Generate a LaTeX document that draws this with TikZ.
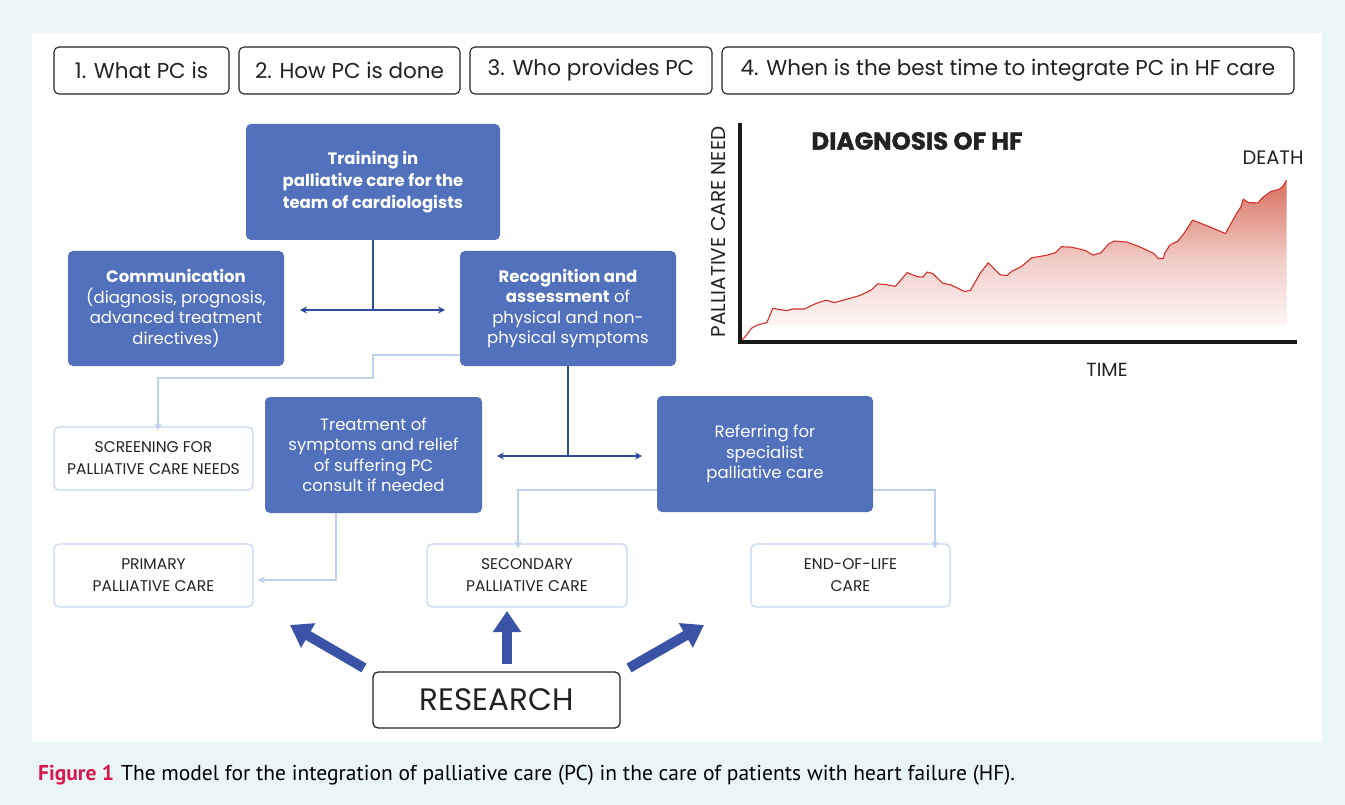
\documentclass[tikz,border=0pt]{standalone}
\usepackage{fontspec}
\setmainfont{Poppins}
\newfontfamily\capfont{PT Sans}
\newfontface\heavyface{Poppins Bold}[FakeBold=1.2]
\usetikzlibrary{arrows.meta}
\definecolor{bgc}{HTML}{EAF5F7}
\definecolor{boxblue}{HTML}{5171BD}
\definecolor{darkcon}{HTML}{2F4BA0}
\definecolor{lightcon}{HTML}{BFD0EE}
\definecolor{lightborder}{HTML}{C9D7F1}
\definecolor{bigarrow}{HTML}{3A53A6}
\definecolor{curvered}{HTML}{D3302B}
\definecolor{fillred}{HTML}{D8705F}
\definecolor{figred}{HTML}{D8194F}
\definecolor{txt}{HTML}{222222}
\tikzset{
  topbox/.style={draw=txt, line width=1.1pt, rounded corners=5pt, text=txt, font=\fontsize{21.5}{25}\selectfont, minimum height=47pt, inner sep=0pt},
  bluebox/.style={fill=boxblue, rounded corners=5pt, text=white, font=\fontsize{16.5}{20.5}\selectfont, align=center, inner sep=0pt},
  whitebox/.style={draw=lightborder, fill=white, line width=1.3pt, rounded corners=5pt, text=txt, font=\fontsize{15.5}{22}\selectfont, align=center, inner sep=0pt, minimum height=63pt},
  darkarrow/.style={draw=darkcon, line width=1.3pt, {Stealth[length=7pt,width=7pt]}-{Stealth[length=7pt,width=7pt]}},
  darkline/.style={draw=darkcon, line width=1.3pt},
  lightline/.style={draw=lightcon, line width=1.9pt, -{Stealth[length=7pt,width=7pt]}},
  fatarrow/.style={draw=bigarrow, line width=10pt, -{Triangle[length=21pt,width=27pt]}},
  charttext/.style={text=txt, inner sep=0pt, font=\fontsize{19.5}{21}\selectfont},
}
\begin{document}
\begin{tikzpicture}[x=1pt,y=-1pt]
\useasboundingbox (0,0) rectangle (1345,805);
\fill[bgc] (0,0) rectangle (1345,805);
\fill[white] (32,33) rectangle (1322,742);

% top boxes
\node[topbox, minimum width=175pt] (q1) at (141.5,70.5) {1. What PC is};
\node[topbox, minimum width=221pt] (q2) at (349.5,70.5) {2. How PC is done};
\node[topbox, minimum width=242pt] (q3) at (591,70.5) {3. Who provides PC};
\node[topbox, minimum width=572pt] (q4) at (1008,70.5) {4. When is the best time to integrate PC in HF care};

% blue boxes
\node[bluebox, minimum width=254pt, minimum height=116pt, font=\fontsize{16.5}{22}\selectfont] (train) at (373,182) {\bfseries Training in\\\bfseries palliative care for the\\\bfseries team of cardiologists};
\node[bluebox, minimum width=216pt, minimum height=115pt] (comm) at (176,308.5) {\textbf{Communication}\\(diagnosis, prognosis,\\advanced treatment\\directives)};
\node[bluebox, minimum width=216pt, minimum height=115pt] (recog) at (568,308.5) {\textbf{Recognition and}\\\textbf{assessment} of\\physical and non-\\physical symptoms};
\node[bluebox, minimum width=217pt, minimum height=116pt] (treat) at (373.5,455) {Treatment of\\symptoms and relief\\of suffering PC\\consult if needed};
\node[bluebox, minimum width=216pt, minimum height=116pt] (refer) at (765,454) {Referring for\\specialist\\palliative care};

% white boxes
\node[whitebox, minimum width=199pt] (screen) at (153.5,458.5) {SCREENING FOR\\PALLIATIVE CARE NEEDS};
\node[whitebox, minimum width=199pt] (primary) at (153.5,575.5) {PRIMARY\\PALLIATIVE CARE};
\node[whitebox, minimum width=200pt] (second) at (527,575.5) {SECONDARY\\PALLIATIVE CARE};
\node[whitebox, minimum width=199pt] (eol) at (850.5,575.5) {END-OF-LIFE\\CARE};

\node[draw=txt, line width=1.2pt, rounded corners=5pt, fill=white, minimum width=247pt, minimum height=56pt, inner sep=0pt, text=txt, font=\fontsize{31}{34}\selectfont] (research) at (496.5,700) {RESEARCH};

% dark connectors
\coordinate (j1) at (373,310);
\coordinate (a1l) at (300,310);
\coordinate (a1r) at (445,310);
\draw[darkline] (train.south) -- (j1);
\draw[darkarrow] (a1l) -- (a1r);
\coordinate (j2) at (568,456);
\coordinate (a2l) at (497,456);
\coordinate (a2r) at (642,456);
\draw[darkline] (recog.south) -- (j2);
\draw[darkarrow] (a2l) -- (a2r);

% light connectors
\draw[lightline] ([yshift=-46.5pt]recog.west) -- (373,355) -- (373,378) -- (158,378) -- ([yshift=-4pt]screen.north -| 158,0);
\draw[lightline] (treat.south -| 336,0) -- (336,580) -- ([xshift=4pt]primary.east |- 0,580);
\draw[lightline] ([yshift=-36pt]refer.west) -- (518,490) -- ([yshift=-5pt]second.north -| 518,0);
\draw[lightline] ([yshift=-36pt]refer.east) -- (935,490) -- ([yshift=-5pt]eol.north -| 935,0);

% fat arrows from research
\coordinate (r1s) at (364,668); \coordinate (r1e) at (290,625);
\coordinate (r2s) at (507,664); \coordinate (r2e) at (507,611);
\coordinate (r3s) at (629,668); \coordinate (r3e) at (704,625);
\draw[fatarrow] (r1s) -- (r1e);
\draw[fatarrow] (r2s) -- (r2e);
\draw[fatarrow] (r3s) -- (r3e);

% chart
\def\curvepts{(741.2,340.3) -- (745.1,337.0) -- (751.1,328.6) -- (757.0,325.2) -- (766.9,322.5) -- (772.8,308.3) -- (786.6,310.7) -- (792.6,309.0) -- (804.4,309.0) -- (816.3,303.3) -- (826.2,300.2) -- (834.1,302.6) -- (847.9,298.9) -- (859.8,295.5) -- (871.6,289.8) -- (877.5,283.8) -- (887.4,284.8) -- (895.3,286.4) -- (907.2,272.6) -- (917.1,276.7) -- (923.0,277.0) -- (927.0,272.0) -- (932.9,273.7) -- (942.8,283.4) -- (950.7,284.8) -- (964.5,291.5) -- (970.4,290.5) -- (980.3,273.0) -- (988.2,262.9) -- (1000.1,274.7) -- (1006.8,275.7) -- (1011.9,271.3) -- (1021.8,266.2) -- (1031.7,257.8) -- (1045.5,255.5) -- (1055.4,252.8) -- (1061.3,246.7) -- (1071.2,247.1) -- (1085.1,250.4) -- (1092.9,255.1) -- (1100.9,252.8) -- (1108.8,243.7) -- (1114.7,241.0) -- (1126.6,242.0) -- (1140.4,247.1) -- (1154.2,253.8) -- (1158.2,258.5) -- (1163.3,258.5) -- (1164.9,252.8) -- (1170.0,245.0) -- (1177.9,241.0) -- (1183.9,233.6) -- (1192.6,220.1) -- (1209.6,226.8) -- (1225.4,233.6) -- (1235.3,215.7) -- (1241.2,206.3) -- (1243.2,199.2) -- (1248.3,202.6) -- (1258.2,202.9) -- (1262.2,197.9) -- (1270.9,191.5) -- (1278.8,189.5) -- (1282.8,186.4) -- (1286.6,180.4)}
\shade[top color=fillred, bottom color=white, middle color=fillred!35] (741.2,330) -- \curvepts -- (1286.6,325) -- (741.2,325) -- cycle;
\draw[curvered, line width=1.1pt, line join=round] \curvepts;
\coordinate (ax0) at (740,342);
\coordinate (axy) at (740,123);
\coordinate (axx) at (1297,342);
\draw[line width=4pt, black!90] (axy) -- (ax0) -- (axx);
\node[charttext, rotate=90, font=\fontsize{20}{22}\selectfont] (ylab) at (718,232) {PALLIATIVE CARE NEED};
\node[charttext, font=\heavyface\fontsize{24.5}{26}\selectfont] (diag) at (917,141) {DIAGNOSIS OF HF};
\node[charttext] (death) at (1273,158) {DEATH};
\node[charttext, font=\fontsize{19}{21}\selectfont] (time) at (1107,370) {TIME};

% caption
\node[anchor=west, inner sep=0pt, font=\capfont\fontsize{21.5}{23}\selectfont, text=black] (cap) at (38,775) {{\color{figred}\bfseries Figure 1}\hspace{7pt}The model for the integration of palliative care (PC) in the care of patients with heart failure (HF).};
\end{tikzpicture}
\end{document}
